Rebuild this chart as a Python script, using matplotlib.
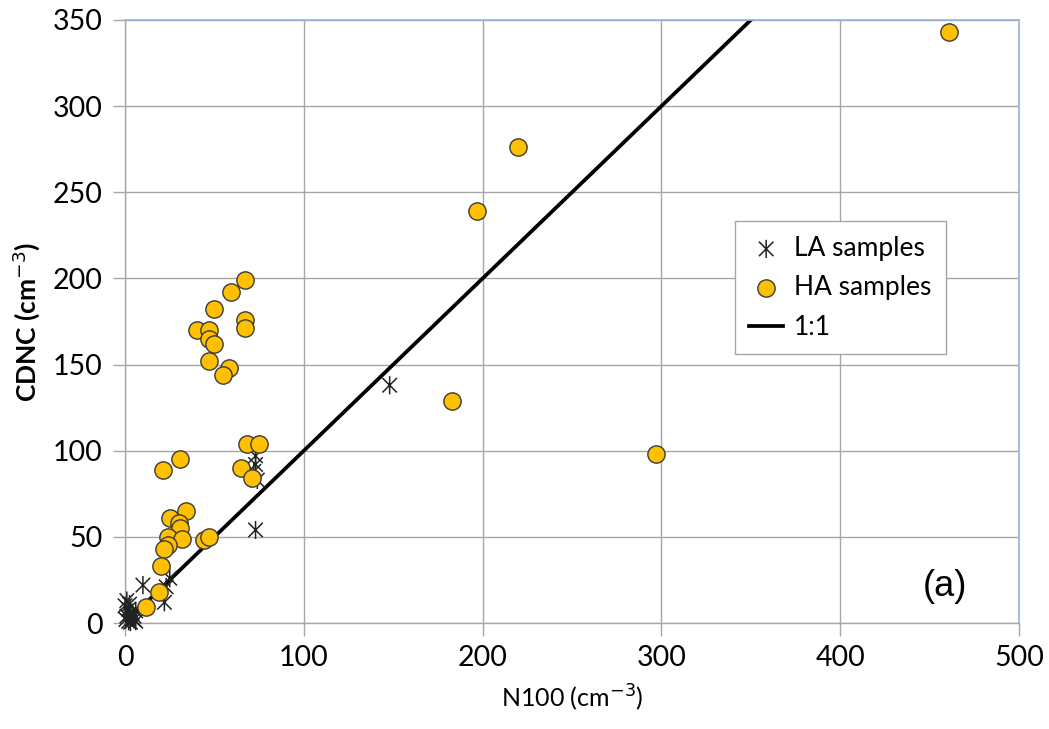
#!/usr/bin/env python3
"""CDNC vs N100 scatter, panel (a)."""

import matplotlib
matplotlib.use("Agg")
import matplotlib.pyplot as plt
from matplotlib.path import Path
import numpy as np

# LA samples (asterisks)
la_x = [148, 73, 73, 73, 72, 74, 10, 25, 22, 23,
        1, 0, 2, 3, 4, 5, 2, 6, 4, 1, 3, 5, 6, 0.5, 2.5]
la_y = [138, 54, 97, 92, 88, 83, 22, 26, 12, 21,
        13, 10, 8, 5, 3, 2, 1, 1, 6, 4, 0.5, 4, 7, 2, 11]

# HA samples (orange circles)
ha_x = [461, 220, 197, 183, 297,
        67, 59, 50, 67, 67, 40, 47, 47, 50, 47, 58, 55, 68, 75,
        65, 71, 21, 31, 34, 25, 30, 31, 24, 32, 44, 47, 24, 22, 20, 19, 12]
ha_y = [343, 276, 239, 129, 98,
        199, 192, 182, 176, 171, 170, 170, 165, 162, 152, 148, 144, 104, 104,
        90, 84, 89, 95, 65, 61, 58, 55, 50, 49, 48, 50, 45, 43, 33, 18, 9]

one_to_one = [0, 350]

x_ticks = [0, 100, 200, 300, 400, 500]
y_ticks = [0, 50, 100, 150, 200, 250, 300, 350]

# asterisk like the spreadsheet one: an x with a vertical bar
star = Path(
    [(-1, -1), (1, 1), (-1, 1), (1, -1), (0, -1.25), (0, 1.25)],
    [Path.MOVETO, Path.LINETO, Path.MOVETO, Path.LINETO, Path.MOVETO, Path.LINETO],
)

plt.rcParams['font.family'] = ['Lato', 'DejaVu Sans']

fig = plt.figure(figsize=(10.49, 7.29), dpi=100)
ax = fig.add_axes([0.1192, 0.1454, 0.8522, 0.8272])

ax.plot(one_to_one, one_to_one, color='black', linewidth=2.7, zorder=2, label='1:1')
ax.scatter(la_x, la_y, marker=star, s=170, facecolor='none', edgecolor='#222222',
           linewidths=1.1, zorder=3, label='LA samples', clip_on=False)
ax.scatter(ha_x, ha_y, marker='o', s=155, facecolor='#FFC000', edgecolor='#3a3a3a',
           linewidths=1.0, zorder=4, label='HA samples', clip_on=False)

ax.set_xlim(0, 500)
ax.set_ylim(0, 350)
ax.set_xticks(x_ticks)
ax.set_yticks(y_ticks)
ax.tick_params(axis='both', labelsize=20.5, length=9, width=1, color='#a6a6a6',
               direction='out', pad=7)
ax.grid(True, color='#a6a6a6', linewidth=1)
ax.set_axisbelow(True)

for side in ('left', 'bottom'):
    ax.spines[side].set_color('#a6a6a6')
    ax.spines[side].set_linewidth(1)
for side in ('top', 'right'):
    ax.spines[side].set_color('#95b3d7')
    ax.spines[side].set_linewidth(1.2)

ax.set_xlabel('N100 (cm$^{\\mathsf{-3}}$)', fontsize=18, labelpad=8)
ax.set_ylabel('CDNC (cm$^{\\mathsf{-3}}$)', fontsize=19, fontweight='bold', labelpad=8)

ax.text(471, 11, '(a)', fontsize=26, family=['Liberation Sans', 'DejaVu Sans'],
        ha='right', va='bottom')

handles, labels = ax.get_legend_handles_labels()
order = [1, 2, 0]
leg = ax.legend([handles[i] for i in order], [labels[i] for i in order],
                loc='upper left', bbox_to_anchor=(0.667, 0.688), fontsize=19,
                frameon=True, fancybox=False, edgecolor='#a6a6a6', framealpha=1,
                handlelength=1.3, handletextpad=0.4, borderpad=0.55, labelspacing=0.55)
leg.get_frame().set_linewidth(1)

fig.savefig('out.png', dpi=100)
